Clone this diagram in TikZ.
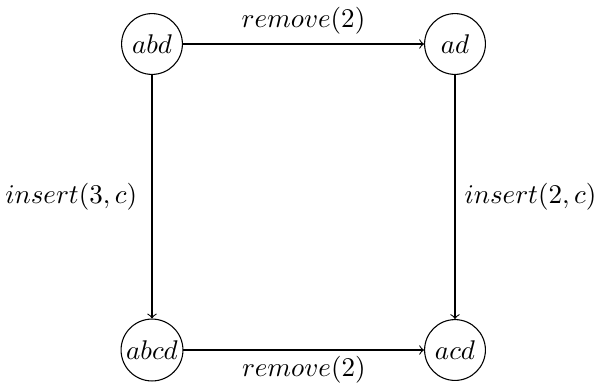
\documentclass[tikz,border=0pt]{standalone}
\usepackage{amsmath, amssymb}
\usepackage{tikz}

\begin{document}
\begin{tikzpicture}[
    x=0.37pt, y=-0.37pt,
    state/.style={draw, circle, inner sep=1pt, minimum size=22.5pt},
    every edge/.style={draw, ->}
]
\useasboundingbox (0,0) rectangle (595,383);
\node[state] (abd) at (152,44) {$abd$};
\node[state] (ad) at (455,44) {$ad$};
\node[state] (abcd) at (152,350) {$abcd$};
\node[state] (acd) at (455,350) {$acd$};
\path (abd) edge node[above] {$remove(2)$} (ad)
      (abd) edge node[left, xshift=-2pt] {$insert(3,c)$} (abcd)
      (ad) edge node[right] {$insert(2,c)$} (acd)
      (abcd) edge node[below, inner sep=2pt] {$remove(2)$} (acd);
\end{tikzpicture}
\end{document}
